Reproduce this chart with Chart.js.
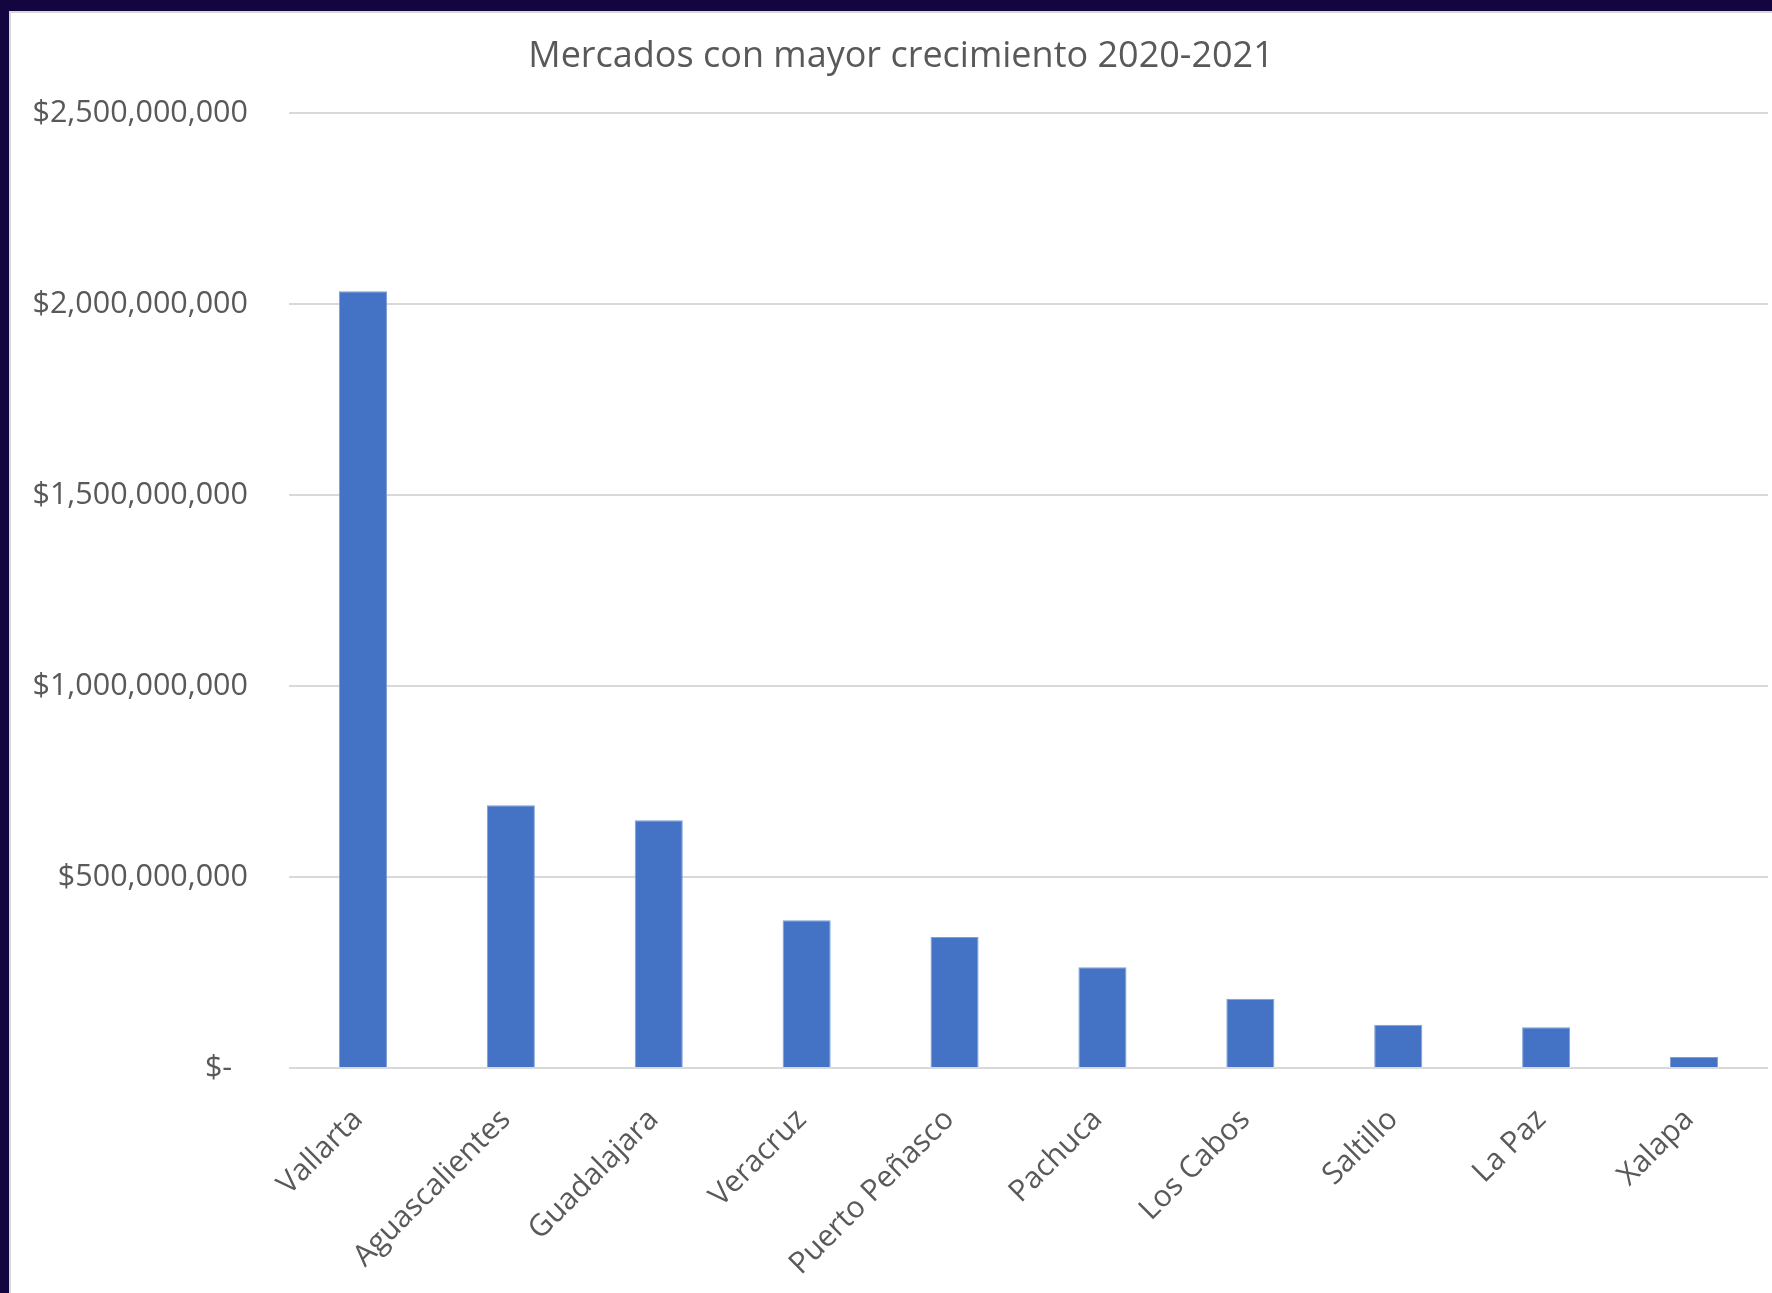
<!DOCTYPE html>
<html>
<head>
<meta charset="utf-8">
<script src="https://cdn.jsdelivr.net/npm/chart.js@4/dist/chart.umd.min.js"></script>
<style>
  html, body { margin: 0; padding: 0; }
  body { width: 1772px; height: 1293px; background: #130640; position: relative; overflow: hidden; }
  #frame { position: absolute; left: 9px; top: 11px; width: 1761px; height: 1282px;
           background: #ffffff; border-left: 2px solid #d8d8d8; border-top: 2px solid #d8d8d8; }
  #wrap { position: absolute; left: 0; top: 0; width: 1761px; height: 1280px; }
</style>
</head>
<body>
<div id="frame"><div id="wrap"><canvas id="c"></canvas></div></div>
<script>
// Markets with the highest growth, 2020-2021 (MXN)
const mercados = ['Vallarta', 'Aguascalientes', 'Guadalajara', 'Veracruz', 'Puerto Peñasco',
                  'Pachuca', 'Los Cabos', 'Saltillo', 'La Paz', 'Xalapa'];
const crecimiento = [2034000000, 688000000, 649000000, 387000000, 343000000,
                     264000000, 181000000, 113000000, 107000000, 29000000];
const yTicks = [0, 500000000, 1000000000, 1500000000, 2000000000, 2500000000];

const FONT = '"Open Sans", "Liberation Sans", sans-serif';
const GRAY = '#595959';

function moneda(v) {
  if (v === 0) return '$-  ';
  return '$' + v.toLocaleString('en-US');
}

new Chart(document.getElementById('c'), {
  type: 'bar',
  data: {
    labels: mercados,
    datasets: [{
      data: crecimiento,
      backgroundColor: '#4472c4',
      borderColor: '#7f9ed6',
      borderWidth: 1,
      categoryPercentage: 1,
      barPercentage: 0.325
    }]
  },
  options: {
    responsive: true,
    maintainAspectRatio: false,
    animation: false,
    layout: { padding: { left: 23, right: 4, top: 0, bottom: 0 } },
    plugins: {
      legend: { display: false },
      tooltip: { enabled: false },
      title: {
        display: true,
        text: 'Mercados con mayor crecimiento 2020-2021',
        color: GRAY,
        font: { family: FONT, size: 36, weight: 'normal' },
        padding: { top: 22, bottom: 35 }
      }
    },
    scales: {
      y: {
        min: 0,
        max: 2500000000,
        afterBuildTicks: s => { s.ticks = yTicks.map(v => ({ value: v })); },
        afterFit: s => { s.width = 255; },
        border: { display: false },
        grid: { color: '#d9d9d9', lineWidth: 2, drawTicks: false },
        ticks: {
          padding: 41,
          color: GRAY,
          font: { family: FONT, size: 30.5 },
          callback: v => moneda(v)
        }
      },
      x: {
        afterFit: s => { s.height = 225; },
        border: { display: false },
        grid: { display: false, drawTicks: false },
        ticks: {
          padding: 34,
          labelOffset: -5,
          minRotation: 45,
          maxRotation: 45,
          autoSkip: false,
          color: GRAY,
          font: { family: FONT, size: 30 }
        }
      }
    }
  }
});
</script>
</body>
</html>
